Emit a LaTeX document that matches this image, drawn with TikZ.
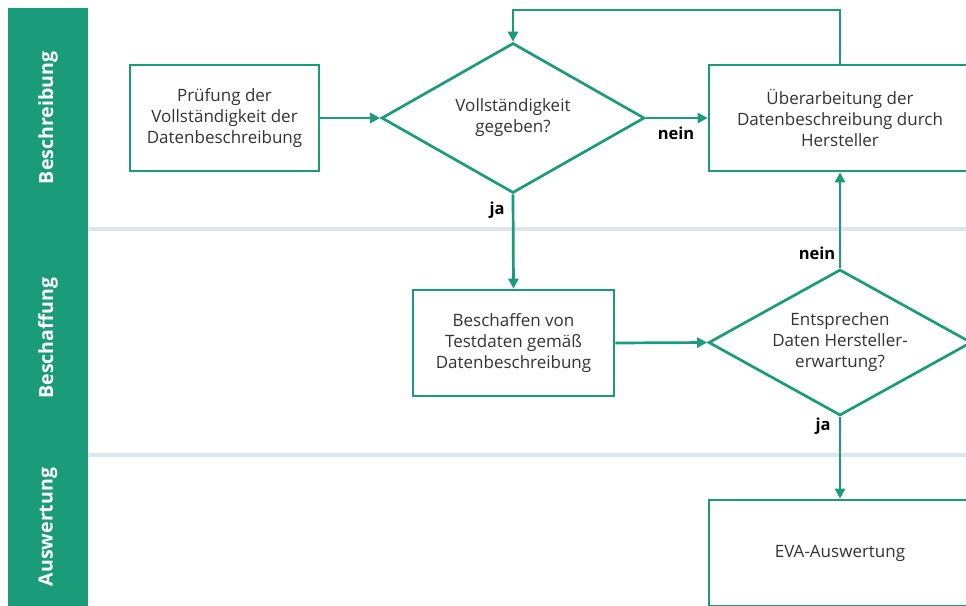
\documentclass[tikz,border=0pt]{standalone}
\usepackage{fontspec}
\setmainfont{Open Sans}
\usetikzlibrary{arrows.meta,shapes.geometric}
\definecolor{gr}{HTML}{1A9B7A}
\definecolor{sep}{HTML}{DCE7ED}
\definecolor{txt}{HTML}{333333}
\tikzset{
  x=1pt,y=-1pt,
  flow/.style={draw=gr,line width=2.7pt,text=txt,align=center,inner sep=0pt,font=\fontsize{17}{21}\selectfont},
  procbox/.style={flow,rectangle,minimum width=#1,minimum height=106pt},
  decision/.style={flow,diamond,aspect=1.8,minimum width=263pt,minimum height=#1},
  conn/.style={draw=gr,line width=2.7pt,-{Triangle[length=10pt,width=10pt]}},
  lbl/.style={font=\bfseries\fontsize{16.5}{19}\selectfont,text=black,inner sep=0pt},
  lane/.style={font=\bfseries\fontsize{19.5}{22}\selectfont,text=white,rotate=90,inner sep=0pt},
}
\begin{document}
\begin{tikzpicture}
\useasboundingbox (0,0) rectangle (966,605);
\clip (0,0) rectangle (966,605);
\fill[white] (0,0) rectangle (966,605);
% sidebar
\fill[gr] (8,8) rectangle (88,610);
\fill[sep] (88,227) rectangle (970,231);
\fill[sep] (88,453) rectangle (970,457);
\node[lane] (l1) at (48,118) {Beschreibung};
\node[lane] (l2) at (48,338) {Beschaffung};
\node[lane] (l3) at (48,527) {Auswertung};
% nodes
\node[procbox=189pt] (b1) at (224.5,118) {Prüfung der\\Vollständigkeit der\\Datenbeschreibung};
\node[decision=150pt] (d1) at (513,118) {Vollständigkeit\\gegeben?};
\node[procbox=262pt] (b2) at (840,118) {Überarbeitung der\\Datenbeschreibung durch\\Hersteller};
\node[procbox=201pt] (b3) at (513.5,343) {Beschaffen von\\Testdaten gemäß\\Datenbeschreibung};
\node[decision=146pt] (d2) at (840,342.5) {Entsprechen\\Daten Hersteller-\\erwartung?};
\node[procbox=262pt] (b4) at (840,553) {EVA-Auswertung};
% connectors
\draw[conn] (b1.east) -- (d1.west);
\draw[conn] (d1.east) -- (b2.west);
\coordinate (c1) at (840,10);
\coordinate (c2) at (513,10);
\draw[conn] (b2.north) -- (c1) -- (c2) -- (d1.north);
\draw[conn] (d1.south) -- (b3.north);
\draw[conn] (b3.east) -- (d2.west);
\draw[conn] (d2.north) -- (b2.south);
\draw[conn] (d2.south) -- (b4.north);
% labels
\node[lbl] (n1) at (676,133) {nein};
\node[lbl] (j1) at (497,210) {ja};
\node[lbl] (n2) at (817,253) {nein};
\node[lbl] (j2) at (823,426) {ja};
\end{tikzpicture}
\end{document}
